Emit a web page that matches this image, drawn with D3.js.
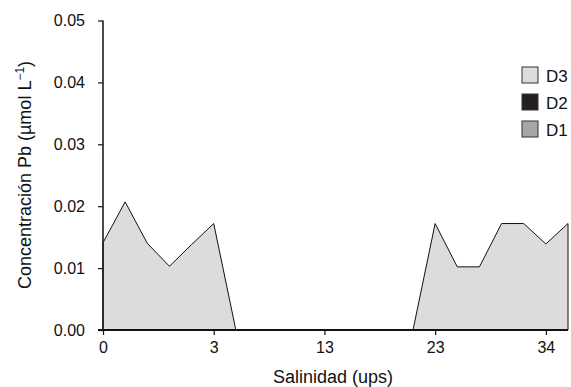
<!DOCTYPE html>
<html>
<head>
<meta charset="utf-8">
<script src="https://cdn.jsdelivr.net/npm/d3@7"></script>
<style>
  body { margin: 0; background: #fff; }
  svg text { font-family: "Liberation Sans", Arial, sans-serif; fill: #111; }
</style>
</head>
<body>
<div id="chart"></div>
<script>
// Pb concentration along the salinity gradient (stacked areas D1, D2, D3)
const samples = [1, 2, 3, 4, 5, 6, 7, 8, 9, 10, 11, 12, 13, 14, 15, 16, 17, 18, 19, 20, 21, 22];
const tickSamples = [1, 6, 11, 16, 21];
const tickLabels = ["0", "3", "13", "23", "34"];
const seriesNames = ["D1", "D2", "D3"];
const d1 = [0, 0, 0, 0, 0, 0, 0, 0, 0, 0, 0, 0, 0, 0, 0, 0, 0, 0, 0, 0, 0, 0];
const d2 = [0, 0, 0, 0, 0, 0, 0, 0, 0, 0, 0, 0, 0, 0, 0, 0, 0, 0, 0, 0, 0, 0];
const d3v = [0.0141, 0.0207, 0.0140, 0.0103, 0.0138, 0.0172, 0, 0, 0, 0, 0, 0, 0, 0, 0,
             0.0172, 0.0102, 0.0102, 0.0172, 0.0172, 0.0139, 0.0172];
const yTicks = [0, 0.01, 0.02, 0.03, 0.04, 0.05];

const width = 571, height = 387;
const colors = { D1: "#a6a6a6", D2: "#231f20", D3: "#dcdcdc" };

const rows = samples.map((s, i) => ({ sample: s, D1: d1[i], D2: d2[i], D3: d3v[i] }));

const svg = d3.select("#chart").append("svg")
  .attr("width", width)
  .attr("height", height);

const x = d3.scalePoint().domain(samples).range([103, 568]);
const y = d3.scaleLinear().domain([0, 0.05]).range([330, 20.5]);

const stack = d3.stack().keys(seriesNames);
const layers = stack(rows);

const area = d3.area()
  .x((d) => x(d.data.sample))
  .y0((d) => y(d[0]))
  .y1((d) => y(d[1]));

svg.append("g")
  .selectAll("path")
  .data(layers)
  .enter()
  .append("path")
  .attr("d", area)
  .attr("fill", (d) => colors[d.key])
  .attr("stroke", "#111")
  .attr("stroke-width", 1)
  .attr("stroke-linejoin", "miter");

// Y axis
const yAxis = svg.append("g")
  .attr("transform", "translate(103,0)")
  .call(d3.axisLeft(y).tickValues(yTicks).tickFormat(d3.format(".2f")).tickSize(5).tickPadding(13));
yAxis.select(".domain").attr("stroke", "#111").attr("stroke-width", 1.5).attr("d", `M0,${y(0.05)}V${y(0)}`);
yAxis.selectAll(".tick line").attr("stroke", "#111").attr("stroke-width", 1.2);
yAxis.selectAll(".tick text").attr("font-size", 16);

// X axis
const xAxis = svg.append("g")
  .attr("transform", "translate(0,330)")
  .call(d3.axisBottom(x).tickValues(tickSamples)
    .tickFormat((d) => tickLabels[tickSamples.indexOf(d)]).tickSize(5).tickPadding(7));
xAxis.select(".domain").attr("stroke", "#111").attr("stroke-width", 2).attr("d", `M${x(samples[0]) - 5},0H${x(samples[samples.length - 1])}`);
xAxis.selectAll(".tick line").attr("stroke", "#111").attr("stroke-width", 1.2);
xAxis.selectAll(".tick text").attr("font-size", 16);

// Axis titles
svg.append("text")
  .attr("x", 333)
  .attr("y", 383)
  .attr("text-anchor", "middle")
  .attr("font-size", 18)
  .text("Salinidad (ups)");

const yTitle = svg.append("text")
  .attr("transform", "translate(31,175) rotate(-90)")
  .attr("text-anchor", "middle")
  .attr("font-size", 18);
yTitle.append("tspan").text("Concentración Pb (µmol L");
yTitle.append("tspan").attr("dy", -7).attr("font-size", 12).text("−1");
yTitle.append("tspan").attr("dy", 7).text(")");

// Legend (top to bottom: D3, D2, D1)
const legendItems = seriesNames.slice().reverse();
const legend = svg.append("g").attr("transform", "translate(522,67)");
const item = legend.selectAll("g")
  .data(legendItems)
  .enter()
  .append("g")
  .attr("transform", (d, i) => `translate(0,${i * 27})`);
item.append("rect")
  .attr("width", 16)
  .attr("height", 16)
  .attr("fill", (d) => colors[d])
  .attr("stroke", "#333")
  .attr("stroke-width", 1);
item.append("text")
  .attr("x", 24)
  .attr("y", 15)
  .attr("font-size", 17)
  .text((d) => d);
</script>
</body>
</html>
